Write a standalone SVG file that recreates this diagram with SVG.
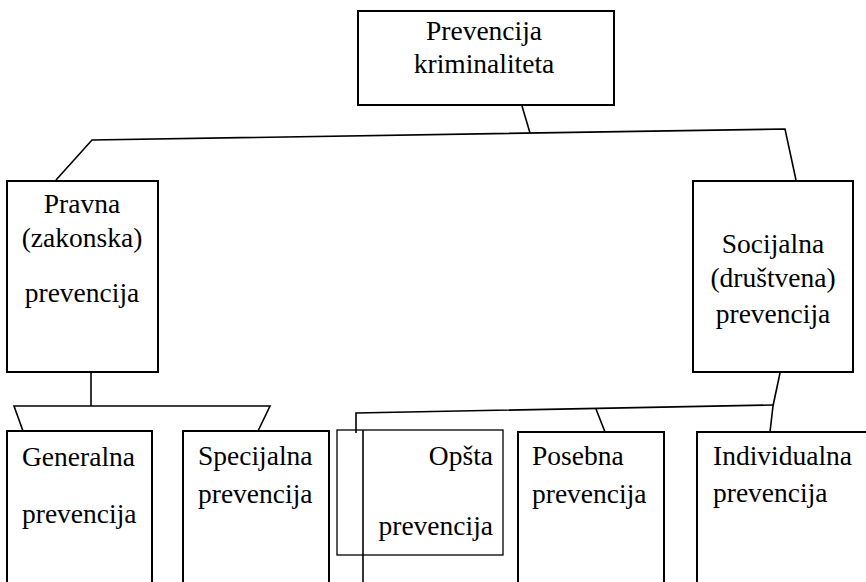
<svg xmlns="http://www.w3.org/2000/svg" width="866" height="582" viewBox="0 0 866 582">
<rect width="866" height="582" fill="#fff"/>
<g id="connectors" fill="none" stroke="#000" stroke-width="1.6">
<polyline points="522,106 530,133"/>
<polyline points="56,180 92,140 785,129 796,180"/>
<polyline points="91,373 91,406"/>
<polyline points="23,431 14,406 270,406 258,431"/>
<polyline points="780,373 773,406 770,432"/>
<polyline points="356,433 356,413 773,405"/>
<polyline points="596,409 605,432"/>
<polyline points="363,430 363,582"/>
</g>
<g id="n-root">
<rect x="358" y="11" width="256" height="94" fill="#fff" stroke="#000" stroke-width="2"/>
<text x="484" y="40" text-anchor="middle" font-family="Liberation Serif" font-size="27.5">Prevencija</text>
<text x="484" y="73" text-anchor="middle" font-family="Liberation Serif" font-size="27.5">kriminaliteta</text>
</g>
<g id="n-pravna">
<rect x="7" y="181" width="151" height="191" fill="#fff" stroke="#000" stroke-width="2"/>
<text x="82" y="213" text-anchor="middle" font-family="Liberation Serif" font-size="27.5">Pravna</text>
<text x="82" y="247" text-anchor="middle" font-family="Liberation Serif" font-size="27.5">(zakonska)</text>
<text x="82" y="302" text-anchor="middle" font-family="Liberation Serif" font-size="27.5">prevencija</text>
</g>
<g id="n-socijalna">
<rect x="693" y="181" width="160" height="191" fill="#fff" stroke="#000" stroke-width="2"/>
<text x="773" y="253" text-anchor="middle" font-family="Liberation Serif" font-size="27.5">Socijalna</text>
<text x="773" y="287" text-anchor="middle" font-family="Liberation Serif" font-size="27.5">(društvena)</text>
<text x="773" y="323" text-anchor="middle" font-family="Liberation Serif" font-size="27.5">prevencija</text>
</g>
<g id="n-generalna">
<path d="M7,584 V431 H152 V584" fill="#fff" stroke="#000" stroke-width="2"/>
<text x="22" y="466" font-family="Liberation Serif" font-size="27.5">Generalna</text>
<text x="22" y="523" font-family="Liberation Serif" font-size="27.5">prevencija</text>
</g>
<g id="n-specijalna">
<path d="M183,584 V431 H329 V584" fill="#fff" stroke="#000" stroke-width="2"/>
<text x="198" y="465" font-family="Liberation Serif" font-size="27.5">Specijalna</text>
<text x="198" y="503" font-family="Liberation Serif" font-size="27.5">prevencija</text>
</g>
<g id="n-opsta">
<rect x="337" y="430" width="166" height="125" fill="none" stroke="#000" stroke-width="1.3"/>
<text x="493" y="465" text-anchor="end" font-family="Liberation Serif" font-size="27.5">Opšta</text>
<text x="493" y="535" text-anchor="end" font-family="Liberation Serif" font-size="27.5">prevencija</text>
</g>
<g id="n-posebna">
<path d="M518,584 V432 H664 V584" fill="#fff" stroke="#000" stroke-width="2"/>
<text x="532" y="465" font-family="Liberation Serif" font-size="27.5">Posebna</text>
<text x="532" y="503" font-family="Liberation Serif" font-size="27.5">prevencija</text>
</g>
<g id="n-individualna">
<path d="M697,584 V432 H870" fill="#fff" stroke="#000" stroke-width="2"/>
<text x="713" y="465" font-family="Liberation Serif" font-size="27.5">Individualna</text>
<text x="713" y="502" font-family="Liberation Serif" font-size="27.5">prevencija</text>
</g>
</svg>
